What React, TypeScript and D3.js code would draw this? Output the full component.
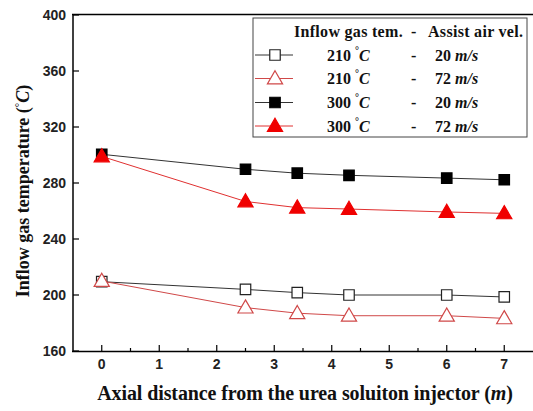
import React from 'react';
import * as d3 from 'd3';

// axial positions (m)
const distances = [0, 2.5, 3.4, 4.3, 6, 7];

// inflow gas temperature (°C) for each case
const t210v20 = [209.5, 204, 201.7, 200, 200, 198.6];
const t210v72 = [210, 191, 187, 185.2, 185.2, 183.3];
const t300v20 = [300.5, 289.8, 287, 285.5, 283.5, 282.3];
const t300v72 = [299, 266.8, 262.4, 261.4, 259.3, 258.3];

const gasTemps = ['210', '210', '300', '300'];
const airVels = ['20', '72', '20', '72'];

const xTicks = [0, 1, 2, 3, 4, 5, 6, 7];
const yTicks = [160, 200, 240, 280, 320, 360, 400];

const W = 533;
const H = 411;

const series = [
  { values: t210v20, shape: 'square', fill: '#fff', stroke: '#222', line: '#333' },
  { values: t210v72, shape: 'triangle', fill: '#fff', stroke: '#d04848', line: '#d04848' },
  { values: t300v20, shape: 'square', fill: '#000', stroke: '#000', line: '#333' },
  { values: t300v72, shape: 'triangle', fill: '#f00000', stroke: '#f00000', line: '#e03030' },
];

const x = d3.scaleLinear().domain([-0.5, 7.5]).range([73, 533]);
const y = d3.scaleLinear().domain([160, 400]).range([351, 15]);

const sq = d3.symbol().type(d3.symbolSquare).size(110);
const tri = d3.symbol().type(d3.symbolTriangle).size(100);

const Marker = ({ s, cx, cy }: any) => (
  <path
    d={(s.shape === 'square' ? sq : tri)() as string}
    transform={`translate(${cx},${cy + (s.shape === 'triangle' ? 1 : 0)})`}
    fill={s.fill}
    stroke={s.stroke}
    strokeWidth={1.2}
  />
);

export default function App() {
  const line = d3
    .line<number>()
    .x((_, i) => x(distances[i]))
    .y((d) => y(d));

  const serif = '"Liberation Serif", "Times New Roman", serif';
  const sans = '"Liberation Sans", Arial, sans-serif';
  const minor = d3.range(0.5, 7.5, 1);

  const legX = 253;
  const legY = 18;
  const rowY = [55, 78.5, 102.5, 126];

  return (
    <svg
      width={W}
      height={H}
      style={{ position: 'absolute', left: 0, top: 0, background: '#fff' }}
    >
      {/* axes frame */}
      <line x1={73} x2={73} y1={14} y2={352} stroke="#000" strokeWidth={1.5} />
      <line x1={72} x2={533} y1={351.5} y2={351.5} stroke="#000" strokeWidth={1.5} />
      <line x1={72} x2={533} y1={14.5} y2={14.5} stroke="#000" strokeWidth={1.5} />

      {/* y ticks */}
      {yTicks.map((t) => (
        <g key={t}>
          <line x1={73} x2={79} y1={y(t)} y2={y(t)} stroke="#000" strokeWidth={1.2} />
          <text
            x={66}
            y={y(t)}
            dy="0.36em"
            textAnchor="end"
            fontFamily={sans}
            fontWeight="bold"
            fontSize={14}
            fill="#222"
          >
            {t}
          </text>
        </g>
      ))}

      {/* x ticks */}
      {xTicks.map((t) => (
        <g key={t}>
          <line x1={x(t)} x2={x(t)} y1={351} y2={345} stroke="#000" strokeWidth={1.2} />
          <text
            x={x(t)}
            y={369}
            textAnchor="middle"
            fontFamily={sans}
            fontWeight="bold"
            fontSize={14}
            fill="#222"
          >
            {t}
          </text>
        </g>
      ))}
      {minor.map((t) => (
        <line key={t} x1={x(t)} x2={x(t)} y1={351} y2={348} stroke="#000" strokeWidth={1.2} />
      ))}

      {/* axis titles */}
      <text
        x={305}
        y={400}
        textAnchor="middle"
        fontFamily={serif}
        fontWeight="bold"
        fontSize={20}
        letterSpacing={-0.1}
        fill="#111"
      >
        Axial distance from the urea soluiton injector (<tspan fontStyle="italic">m</tspan>)
      </text>
      <text
        transform="translate(29,191) rotate(-90)"
        textAnchor="middle"
        fontFamily={serif}
        fontWeight="bold"
        fontSize={18}
        fill="#111"
      >
        Inflow gas temperature (<tspan fontSize={11} dy={-6}>°</tspan>
        <tspan fontStyle="italic" dy={6}>C</tspan>)
      </text>

      {/* data */}
      {series.map((s, i) => (
        <g key={i}>
          <path d={line(s.values) as string} fill="none" stroke={s.line} strokeWidth={1} />
          {s.values.map((v, j) => (
            <Marker key={j} s={s} cx={x(distances[j])} cy={y(v)} />
          ))}
        </g>
      ))}

      {/* legend */}
      <rect x={legX} y={legY} width={274} height={119} fill="#fff" stroke="#444" strokeWidth={1} />
      <g fontFamily={serif} fontWeight="bold" fontSize={16} fill="#111">
        <text x={294} y={37} letterSpacing={0.3}>Inflow gas tem.</text>
        <text x={411} y={37}>-</text>
        <text x={428} y={37} letterSpacing={0.3}>Assist air vel.</text>
        {series.map((s, i) => (
          <g key={i}>
            <line x1={255} x2={293} y1={rowY[i]} y2={rowY[i]} stroke={s.line} strokeWidth={1} />
            <Marker s={s} cx={275} cy={rowY[i]} />
            <text x={327} y={rowY[i] + 5.5}>
              {gasTemps[i]} <tspan fontSize={10} dy={-7}>°</tspan>
              <tspan fontStyle="italic" dy={7}>C</tspan>
            </text>
            <text x={411} y={rowY[i] + 5.5}>-</text>
            <text x={435} y={rowY[i] + 5.5}>
              {airVels[i]} <tspan fontStyle="italic">m/s</tspan>
            </text>
          </g>
        ))}
      </g>
    </svg>
  );
}
